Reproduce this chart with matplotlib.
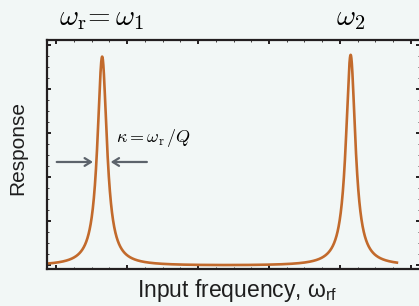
import numpy as np
import matplotlib
matplotlib.use("Agg")
import matplotlib.pyplot as plt
from matplotlib.ticker import MultipleLocator

# Resonance peak parameters
peak_centers = [0.65, 4.15]
peak_heights = [4.75, 4.79]
peak_hwhm = [0.081, 0.081]
baseline = -0.02
x_start, x_end = -0.127, 4.82

peak_labels = [r"$\omega_{\rm r}\!=\omega_1$", r"$\omega_2$"]
kappa_label = r"$\kappa = \omega_{\rm r}\,/Q$"
xlabel_text = "Input frequency, ω$_\\mathregular{rf}$"
ylabel_text = "Response"

bg = "#f2f7f6"
curve_color = "#c26a2c"
arrow_color = "#5c636b"
spine_color = "#231f20"

plt.rcParams["font.family"] = ["Liberation Sans", "DejaVu Sans"]

fig = plt.figure(figsize=(4.19, 3.06), dpi=100, facecolor=bg)
ax = fig.add_axes([47/419, 1-269/306, (420-47)/419, (269-40)/306])
ax.set_facecolor(bg)

x = np.linspace(x_start, x_end, 3000)
y = np.full_like(x, baseline)
for c, h, g in zip(peak_centers, peak_heights, peak_hwhm):
    y = y + h * g**2 / ((x - c)**2 + g**2)
ax.plot(x, y, color=curve_color, lw=1.9, solid_capstyle="butt")

ax.set_xlim(-0.127, 5.127)
ax.set_ylim(-0.09, 5.11)

ax.xaxis.set_major_locator(MultipleLocator(1))
ax.xaxis.set_minor_locator(MultipleLocator(0.25))
ax.yaxis.set_major_locator(MultipleLocator(1))
ax.yaxis.set_minor_locator(MultipleLocator(0.25))
ax.tick_params(which="both", direction="in", top=True, right=True,
               labelbottom=False, labelleft=False, colors=spine_color)
ax.tick_params(which="major", length=3, width=1.4)
ax.tick_params(which="minor", length=1.5, width=0.6)
for s in ax.spines.values():
    s.set_color(spine_color)
    s.set_linewidth(1.6)

# Peak labels above the axes
for c, lab in zip(peak_centers, peak_labels):
    ax.text(c, 5.45, lab, ha="center", va="baseline", fontsize=21,
            math_fontfamily="cm", clip_on=False)

# Linewidth annotation
ax.text(0.85, 2.88, kappa_label, fontsize=13, math_fontfamily="cm",
        ha="left", va="center")
arrow_kw = dict(arrowstyle="->,head_length=0.45,head_width=0.28",
                color=arrow_color, lw=1.6, shrinkA=0, shrinkB=0)
ax.annotate("", xy=(0.52, 2.34), xytext=(0.01, 2.34), arrowprops=arrow_kw)
ax.annotate("", xy=(0.77, 2.34), xytext=(1.28, 2.34), arrowprops=arrow_kw)

fig.text(237/419, 1-291/306, xlabel_text, ha="center", va="center",
         fontsize=16.5, color="#1e1e1e")
fig.text(18/419, 1-148/306, ylabel_text, ha="center", va="center",
         rotation=90, fontsize=15, color="#1e1e1e")

fig.savefig("out.png", dpi=100, facecolor=bg)
